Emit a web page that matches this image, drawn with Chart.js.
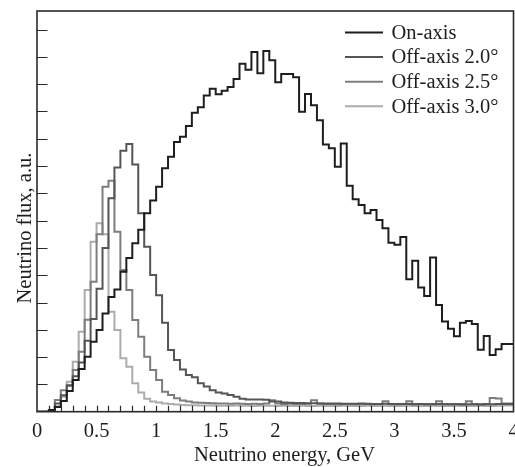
<!DOCTYPE html>
<html>
<head>
<meta charset="utf-8">
<script src="https://cdn.jsdelivr.net/npm/chart.js@4/dist/chart.umd.min.js"></script>
<style>
  html, body { margin: 0; padding: 0; background: #ffffff; }
  #wrap { width: 515px; height: 467px; }
</style>
</head>
<body>
<div id="wrap"><canvas id="c" width="515" height="467"></canvas></div>
<script>
// Energy binning (GeV)
const BIN_WIDTH = 0.05;
const E_MAX = 4.0;

// Text
const seriesLabels = ['On-axis', 'Off-axis 2.0\u00B0', 'Off-axis 2.5\u00B0', 'Off-axis 3.0\u00B0'];
const xTitle = 'Neutrino energy, GeV';
const yTitle = 'Neutrino flux, a.u.';

// Flux per 0.05 GeV bin, arbitrary units
const onAxis = [
  0, 0, 0, 0.06, 0.17, 0.39, 0.76, 1.16, 1.56, 2.01,
  2.56, 2.99, 3.60, 4.20, 4.48, 5.13, 5.63, 6.17, 6.67, 7.27,
  7.74, 8.24, 8.92, 9.34, 9.88, 10.07, 10.47, 10.95, 11.15, 11.58,
  11.83, 11.63, 11.76, 11.90, 12.19, 12.75, 12.53, 13.18, 12.40, 13.21,
  12.88, 12.07, 12.37, 12.37, 12.25, 10.99, 11.64, 11.23, 10.68, 9.79,
  9.65, 8.97, 9.83, 8.28, 7.78, 7.57, 7.27, 7.39, 7.02, 6.72,
  6.19, 6.12, 6.40, 4.85, 5.53, 4.55, 4.24, 5.65, 3.91, 3.30,
  3.04, 2.76, 3.26, 3.32, 3.21, 2.27, 2.77, 2.08, 2.29, 2.48
];
const offAxis20 = [
  0, 0, 0, 0.05, 0.30, 0.60, 0.95, 1.30, 1.80, 2.60,
  3.40, 4.50, 6.00, 7.82, 8.95, 9.56, 9.81, 9.06, 7.27, 6.04,
  5.01, 4.27, 3.26, 2.26, 1.89, 1.55, 1.34, 1.26, 1.04, 0.92,
  0.79, 0.70, 0.67, 0.61, 0.55, 0.47, 0.45, 0.45, 0.45, 0.44,
  0.37, 0.37, 0.34, 0.33, 0.32, 0.32, 0.31, 0.31, 0.30, 0.30,
  0.30, 0.30, 0.29, 0.29, 0.29, 0.30, 0.29, 0.28, 0.28, 0.29,
  0.28, 0.28, 0.28, 0.28, 0.27, 0.28, 0.27, 0.27, 0.28, 0.27,
  0.27, 0.27, 0.26, 0.27, 0.27, 0.26, 0.27, 0.27, 0.28, 0.28
];
const offAxis25 = [
  0, 0, 0, 0.05, 0.43, 0.79, 0.98, 1.53, 2.20, 3.37,
  4.76, 6.50, 8.24, 8.46, 6.59, 5.19, 4.46, 3.36, 2.75, 2.01,
  1.53, 1.16, 0.73, 0.61, 0.49, 0.41, 0.37, 0.34, 0.33, 0.32,
  0.31, 0.30, 0.30, 0.29, 0.30, 0.29, 0.28, 0.29, 0.28, 0.30,
  0.42, 0.30, 0.28, 0.29, 0.28, 0.28, 0.29, 0.42, 0.30, 0.28,
  0.28, 0.27, 0.28, 0.28, 0.27, 0.28, 0.28, 0.27, 0.28, 0.38,
  0.28, 0.27, 0.28, 0.38, 0.27, 0.28, 0.27, 0.28, 0.38, 0.28,
  0.27, 0.28, 0.28, 0.38, 0.28, 0.27, 0.28, 0.50, 0.48, 0.30
];
const offAxis30 = [
  0, 0, 0, 0.06, 0.20, 0.55, 1.10, 1.83, 2.93, 4.46,
  6.23, 6.90, 6.50, 3.66, 2.99, 1.96, 1.65, 1.04, 0.70, 0.47,
  0.37, 0.34, 0.30, 0.28, 0.26, 0.25, 0.24, 0.24, 0.23, 0.23,
  0.23, 0.22, 0.22, 0.22, 0.23, 0.22, 0.22, 0.21, 0.22, 0.22,
  0.22, 0.21, 0.22, 0.21, 0.21, 0.22, 0.21, 0.21, 0.22, 0.21,
  0.21, 0.21, 0.22, 0.21, 0.21, 0.21, 0.22, 0.21, 0.21, 0.22,
  0.21, 0.21, 0.21, 0.22, 0.21, 0.21, 0.21, 0.22, 0.21, 0.21,
  0.21, 0.22, 0.21, 0.21, 0.21, 0.22, 0.21, 0.21, 0.22, 0.23
];

const seriesValues = [onAxis, offAxis20, offAxis25, offAxis30];
const seriesColors = ['#1e1e1e', '#555555', '#7d7d7d', '#acacac'];

// Histogram as step line: one point at each bin's lower edge, plus the closing edge
function histPoints(values) {
  const pts = values.map((v, i) => ({ x: +(i * BIN_WIDTH).toFixed(2), y: v }));
  pts.push({ x: E_MAX, y: values[values.length - 1] });
  return pts;
}

const SERIF = '"Liberation Serif", "DejaVu Serif", serif';
const FONT_PX = 20.5;
const TEXT_COLOR = '#1e1e1e';

// Frame, inward tick marks, axis titles and the legend
const framePlugin = {
  id: 'frameTicks',
  afterDatasetsDraw(chart) {
    const { ctx, chartArea: a, scales: { x, y } } = chart;
    ctx.save();
    ctx.strokeStyle = '#2a2a2a';
    ctx.lineWidth = 1.2;
    ctx.beginPath();
    // x minor ticks every 0.1 GeV, pointing up from the bottom edge
    for (let k = 1; k < 40; k++) {
      const px = Math.round(x.getPixelForValue(k * 0.1)) + 0.5;
      ctx.moveTo(px, a.bottom);
      ctx.lineTo(px, a.bottom - 6);
    }
    // y ticks every unit, pointing right from the left edge
    for (let k = 1; k <= 14; k++) {
      const py = Math.round(y.getPixelForValue(k)) + 0.5;
      ctx.moveTo(a.left, py);
      ctx.lineTo(a.left + 10.5, py);
    }
    ctx.stroke();
    ctx.lineWidth = 1.6;
    ctx.strokeRect(a.left, a.top, a.right - a.left, a.bottom - a.top);
    ctx.restore();
  },
  afterDraw(chart) {
    const { ctx } = chart;
    ctx.save();
    ctx.font = FONT_PX + 'px ' + SERIF;
    ctx.fillStyle = TEXT_COLOR;

    // axis titles
    ctx.textAlign = 'center';
    ctx.textBaseline = 'alphabetic';
    ctx.fillText(xTitle, 284.5, 461);
    ctx.save();
    ctx.translate(31, 228);
    ctx.rotate(-Math.PI / 2);
    ctx.fillText(yTitle, 0, 0);
    ctx.restore();

    // legend
    ctx.textBaseline = 'middle';
    ctx.textAlign = 'left';
    const x0 = 345, x1 = 383, tx = 391.5;
    chart.data.datasets.forEach((ds, i) => {
      const yy = 32.5 + i * 24.6;
      ctx.strokeStyle = ds.borderColor;
      ctx.lineWidth = 2;
      ctx.beginPath();
      ctx.moveTo(x0, yy);
      ctx.lineTo(x1, yy);
      ctx.stroke();
      ctx.fillText(ds.label, tx, yy + 1);
    });
    ctx.restore();
  }
};

new Chart(document.getElementById('c'), {
  type: 'line',
  data: {
    datasets: seriesValues.map((vals, i) => ({
      label: seriesLabels[i],
      data: histPoints(vals),
      borderColor: seriesColors[i],
      borderWidth: 2,
      pointRadius: 0,
      stepped: 'after',
      fill: false,
      tension: 0
    }))
  },
  options: {
    responsive: false,
    animation: false,
    events: [],
    layout: { padding: { top: 11, right: 1.5, left: 0, bottom: 0 } },
    plugins: {
      legend: { display: false },
      tooltip: { enabled: false }
    },
    scales: {
      x: {
        type: 'linear',
        min: 0,
        max: E_MAX,
        grid: { display: false, drawTicks: false },
        border: { display: false },
        ticks: {
          stepSize: 0.5,
          padding: 8,
          color: TEXT_COLOR,
          font: { family: SERIF, size: FONT_PX },
          maxRotation: 0,
          callback: v => String(v)
        },
        title: { display: false },
        afterFit(scale) {
          scale.height = 55.3;
          // let the end labels run past the plot edges instead of shrinking it
          scale.paddingLeft = 0;
          scale.paddingRight = 0;
        }
      },
      y: {
        type: 'linear',
        min: 0,
        max: 14.68,
        grid: { display: false, drawTicks: false },
        border: { display: false },
        ticks: { display: false, stepSize: 1 },
        title: { display: false },
        afterFit(scale) { scale.width = 37; }
      }
    }
  },
  plugins: [framePlugin]
});
</script>
</body>
</html>
